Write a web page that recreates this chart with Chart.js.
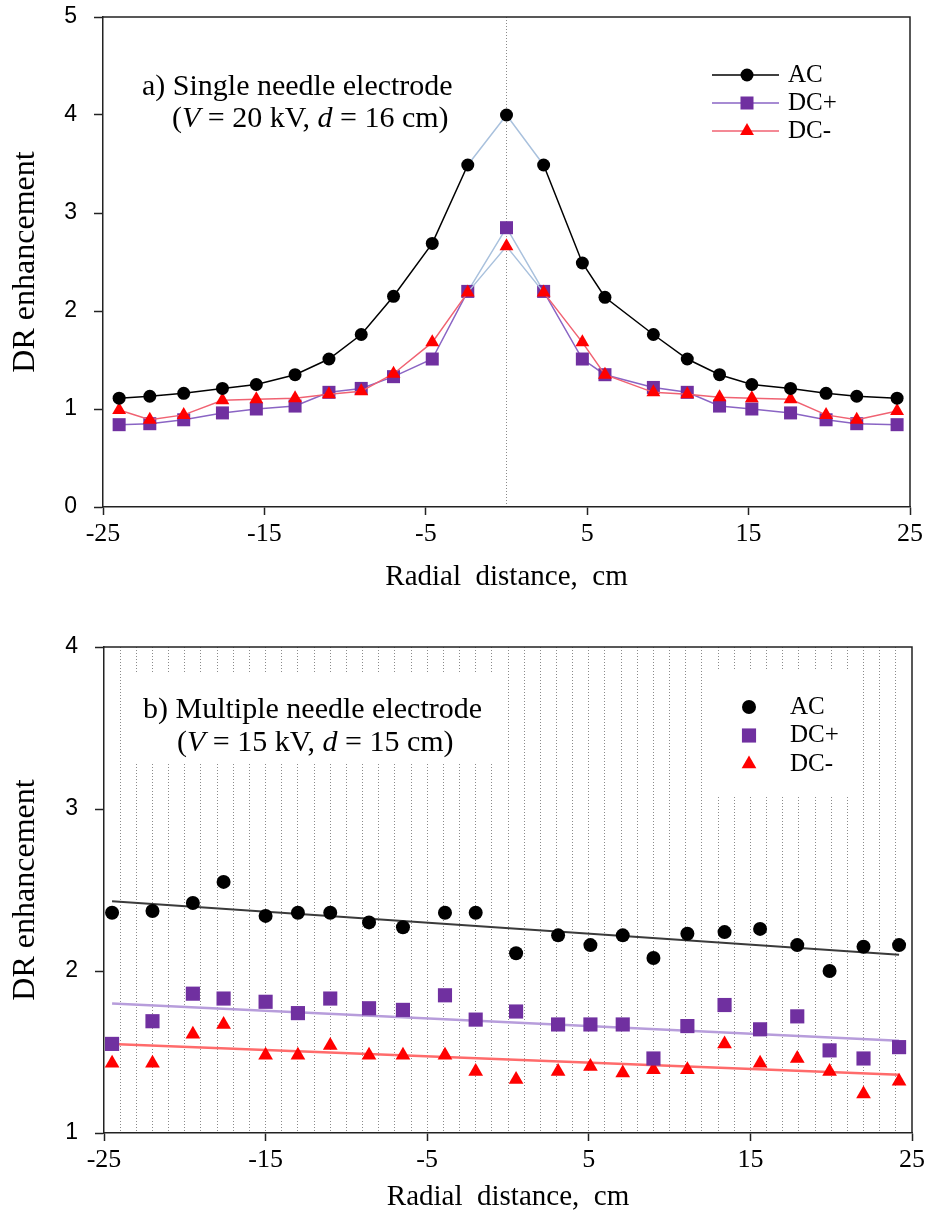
<!DOCTYPE html>
<html>
<head>
<meta charset="utf-8">
<script src="https://cdn.jsdelivr.net/npm/chart.js@4.4.0/dist/chart.umd.min.js"></script>
<style>
  body { margin: 0; background: #fff; }
  canvas { position: absolute; left: 0; }
</style>
</head>
<body>
<canvas id="chartSingle" width="933" height="600" style="top:0"></canvas>
<canvas id="chartMulti" width="933" height="623" style="top:600px"></canvas>
<script>
// a) single needle: radial distance (cm) and DR enhancement
const singleX = [-24, -22.1, -20, -17.6, -15.5, -13.1, -11, -9, -7, -4.6, -2.4, 0, 2.3, 4.7, 6.1, 9.1, 11.2, 13.2, 15.2, 17.6, 19.8, 21.7, 24.2];
const singleAC = [1.11, 1.13, 1.16, 1.21, 1.25, 1.35, 1.51, 1.76, 2.15, 2.69, 3.49, 4.0, 3.49, 2.49, 2.14, 1.76, 1.51, 1.35, 1.25, 1.21, 1.16, 1.13, 1.11];
const singleDCpos = [0.84, 0.85, 0.89, 0.96, 1.0, 1.03, 1.17, 1.21, 1.33, 1.51, 2.2, 2.85, 2.2, 1.51, 1.35, 1.22, 1.17, 1.03, 1.0, 0.96, 0.89, 0.85, 0.84];
const singleDCneg = [0.99, 0.89, 0.94, 1.09, 1.1, 1.11, 1.15, 1.18, 1.36, 1.68, 2.19, 2.66, 2.19, 1.68, 1.35, 1.17, 1.15, 1.12, 1.11, 1.1, 0.94, 0.89, 0.98];

// b) multiple needle
const multiX = [-24.5, -22, -19.5, -17.6, -15, -13, -11, -8.6, -6.5, -3.9, -2, 0.5, 3.1, 5.1, 7.1, 9, 11.1, 13.4, 15.6, 17.9, 19.9, 22, 24.2];
const multiAC = [2.36, 2.37, 2.42, 2.55, 2.34, 2.36, 2.36, 2.3, 2.27, 2.36, 2.36, 2.11, 2.22, 2.16, 2.22, 2.08, 2.23, 2.24, 2.26, 2.16, 2.0, 2.15, 2.16];
const multiDCpos = [1.55, 1.69, 1.86, 1.83, 1.81, 1.74, 1.83, 1.77, 1.76, 1.85, 1.7, 1.75, 1.67, 1.67, 1.67, 1.46, 1.66, 1.79, 1.64, 1.72, 1.51, 1.46, 1.53];
const multiDCneg = [1.43, 1.43, 1.61, 1.67, 1.48, 1.48, 1.54, 1.48, 1.48, 1.48, 1.38, 1.33, 1.38, 1.41, 1.37, 1.39, 1.39, 1.55, 1.43, 1.46, 1.38, 1.24, 1.32];

// linear trend lines (end points)
const trendX = [-24.5, 24.2];
const trendAC = [2.43, 2.1];
const trendDCpos = [1.8, 1.57];
const trendDCneg = [1.55, 1.36];

// axes
const xTickLabels = [-25, -15, -5, 5, 15, 25];
const singleYTicks = [0, 1, 2, 3, 4, 5];
const multiYTicks = [1, 2, 3, 4];

const AXIS = '#222';
const SERIF = '"Liberation Serif", "Times New Roman", serif';
const SANS = '"Liberation Sans", Arial, sans-serif';

function pts(xs, ys) {
  return xs.map((x, i) => ({ x: x, y: ys[i] }));
}

function marker(ctx, style, x, y, r) {
  ctx.beginPath();
  if (style === 'rect') {
    const s = r * Math.SQRT1_2;
    ctx.rect(x - s, y - s, 2 * s, 2 * s);
  } else if (style === 'triangle') {
    ctx.moveTo(x, y - r);
    ctx.lineTo(x + r * Math.sin(Math.PI * 2 / 3), y + r / 2);
    ctx.lineTo(x - r * Math.sin(Math.PI * 2 / 3), y + r / 2);
    ctx.closePath();
  } else {
    ctx.arc(x, y, r, 0, Math.PI * 2);
  }
  ctx.fill();
}

// caption, white masks, frame and inset legend
const decor = {
  id: 'decor',
  beforeDatasetsDraw(chart, args, opts) {
    const ctx = chart.ctx, a = chart.chartArea;
    ctx.save();
    ctx.fillStyle = '#fff';
    (opts.masks || []).forEach(m => ctx.fillRect(a.left + m.x, a.top + m.y, m.w, m.h));
    ctx.strokeStyle = AXIS;
    ctx.lineWidth = 1.5;
    ctx.beginPath();
    ctx.moveTo(a.left, a.top);
    ctx.lineTo(a.right, a.top);
    ctx.lineTo(a.right, a.bottom);
    ctx.stroke();
    ctx.fillStyle = '#000';
    ctx.textBaseline = 'middle';
    opts.caption.forEach(line => {
      let x = a.left + line.x;
      line.runs.forEach(r => {
        ctx.font = (r.italic ? 'italic ' : '') + '30px ' + SERIF;
        ctx.fillText(r.t, x, a.top + line.y);
        x += ctx.measureText(r.t).width;
      });
    });
    ctx.restore();
  },
  afterDatasetsDraw(chart, args, opts) {
    const ctx = chart.ctx, a = chart.chartArea, lg = opts.legend;
    ctx.save();
    ctx.textBaseline = 'middle';
    ctx.font = '25px ' + SERIF;
    chart.data.datasets.filter(ds => !ds.trend).forEach((ds, i) => {
      const y = a.top + lg.y + i * lg.gap;
      const mx = a.left + lg.x;
      if (lg.line) {
        ctx.strokeStyle = ds.borderColor;
        ctx.lineWidth = ds.borderWidth;
        ctx.beginPath();
        ctx.moveTo(mx - 35, y);
        ctx.lineTo(mx + 32, y);
        ctx.stroke();
      }
      ctx.fillStyle = ds.backgroundColor;
      marker(ctx, ds.pointStyle, mx, y, ds.pointRadius);
      ctx.fillStyle = '#000';
      ctx.fillText(ds.label, mx + 41, y);
    });
    ctx.restore();
  }
};

function scales(opt) {
  return {
    x: {
      type: 'linear', min: -25, max: 25,
      afterBuildTicks: s => { s.ticks = opt.xGrid.map(v => ({ value: v })); },
      afterFit: s => { s.height = opt.xHeight; },
      ticks: {
        autoSkip: false, maxRotation: 0, padding: 4, color: '#000',
        font: { family: SERIF, size: 26 },
        callback: v => xTickLabels.includes(v) ? String(v) : ''
      },
      grid: {
        lineWidth: 1,
        color: c => opt.dotted(c.tick.value) ? '#8a8a8a' : 'transparent',
        tickColor: c => xTickLabels.includes(c.tick.value) ? AXIS : 'transparent',
        tickLength: 8, tickWidth: 1.5
      },
      border: { color: AXIS, width: 1.5, dash: [1, 2] },
      title: {
        display: true, text: 'Radial  distance,  cm', color: '#000',
        font: { family: SERIF, size: 29 }, padding: opt.xTitlePad
      }
    },
    y: {
      min: opt.yTicks[0], max: opt.yTicks[opt.yTicks.length - 1],
      afterBuildTicks: s => { s.ticks = opt.yTicks.map(v => ({ value: v })); },
      afterFit: s => { s.width = opt.yWidth; s.paddingTop = 0; s.paddingBottom = 0; },
      ticks: { padding: 17, color: '#000', font: { family: SANS, size: 23 } },
      grid: { drawOnChartArea: false, tickLength: 9, tickWidth: 1.5, tickColor: AXIS },
      border: { color: AXIS, width: 1.5 },
      title: {
        display: true, text: 'DR enhancement', color: '#000',
        font: { family: SERIF, size: 32 }, padding: { top: 6, bottom: 0 }
      }
    }
  };
}

// shade the two segments that meet at the centre
const centreIdx = singleX.indexOf(0);
const centreSeg = c => (c.p0DataIndex === centreIdx || c.p1DataIndex === centreIdx) ? '#a9c1dd' : undefined;

new Chart(document.getElementById('chartSingle'), {
  type: 'scatter',
  data: {
    datasets: [
      {
        label: 'AC', data: pts(singleX, singleAC), showLine: true, order: 0,
        borderColor: '#000', backgroundColor: '#000', borderWidth: 1.5,
        pointStyle: 'circle', pointRadius: 6.5, pointBorderWidth: 0,
        segment: { borderColor: centreSeg }
      },
      {
        label: 'DC+', data: pts(singleX, singleDCpos), showLine: true, order: 2,
        borderColor: '#8a64c4', backgroundColor: '#7030a0', borderWidth: 1.5,
        pointStyle: 'rect', pointRadius: 9.2, pointBorderWidth: 0,
        segment: { borderColor: centreSeg }
      },
      {
        label: 'DC-', data: pts(singleX, singleDCneg), showLine: true, order: 1,
        borderColor: '#f06272', backgroundColor: '#ff0000', borderWidth: 1.5,
        pointStyle: 'triangle', pointRadius: 8, pointBorderWidth: 0,
        segment: { borderColor: centreSeg }
      }
    ]
  },
  options: {
    responsive: false, animation: false, clip: false,
    layout: { padding: { top: 17, right: 23, left: 0, bottom: 0 } },
    plugins: {
      legend: { display: false }, tooltip: { enabled: false },
      decor: {
        caption: [
          { x: 39, y: 70, runs: [{ t: 'a) Single needle electrode' }] },
          { x: 69, y: 102, runs: [{ t: '(' }, { t: 'V', italic: true }, { t: ' = 20 kV, ' }, { t: 'd', italic: true }, { t: ' = 16 cm)' }] }
        ],
        legend: { x: 644, y: 58, gap: 28, line: true }
      }
    },
    scales: scales({
      xGrid: [-25, -15, -5, 0, 5, 15, 25],
      dotted: v => v === 0,
      yTicks: singleYTicks,
      yWidth: 103,
      xHeight: 93,
      xTitlePad: { top: 10, bottom: 5 }
    })
  },
  plugins: [decor]
});

const multiGrid = [];
for (let v = -25; v <= 25; v++) multiGrid.push(v);

new Chart(document.getElementById('chartMulti'), {
  type: 'scatter',
  data: {
    datasets: [
      {
        label: 'AC', data: pts(multiX, multiAC), order: 0,
        backgroundColor: '#000', borderColor: '#000', borderWidth: 1.5,
        pointStyle: 'circle', pointRadius: 7, pointBorderWidth: 0
      },
      {
        label: 'DC+', data: pts(multiX, multiDCpos), order: 1,
        backgroundColor: '#7030a0', borderColor: '#7030a0', borderWidth: 1.5,
        pointStyle: 'rect', pointRadius: 10, pointBorderWidth: 0
      },
      {
        label: 'DC-', data: pts(multiX, multiDCneg), order: 2,
        backgroundColor: '#ff0000', borderColor: '#ff0000', borderWidth: 1.5,
        pointStyle: 'triangle', pointRadius: 8.5, pointBorderWidth: 0
      },
      { trend: true, data: pts(trendX, trendAC), showLine: true, order: 5, borderColor: '#3a3a3a', borderWidth: 2, pointRadius: 0 },
      { trend: true, data: pts(trendX, trendDCpos), showLine: true, order: 5, borderColor: '#b79ddb', borderWidth: 2.5, pointRadius: 0 },
      { trend: true, data: pts(trendX, trendDCneg), showLine: true, order: 5, borderColor: '#ff6b6b', borderWidth: 2.5, pointRadius: 0 }
    ]
  },
  options: {
    responsive: false, animation: false, clip: false,
    layout: { padding: { top: 47, right: 21, left: 0, bottom: 0 } },
    plugins: {
      legend: { display: false }, tooltip: { enabled: false },
      decor: {
        masks: [{ x: 24, y: 26, w: 372, h: 90 }, { x: 606, y: 23, w: 150, h: 127 }],
        caption: [
          { x: 39, y: 63, runs: [{ t: 'b) Multiple needle electrode' }] },
          { x: 73, y: 96, runs: [{ t: '(' }, { t: 'V', italic: true }, { t: ' = 15 kV, ' }, { t: 'd', italic: true }, { t: ' = 15 cm)' }] }
        ],
        legend: { x: 645, y: 60, gap: 28.5, line: false }
      }
    },
    scales: scales({
      xGrid: multiGrid,
      dotted: v => v > -25 && v < 25,
      yTicks: multiYTicks,
      yWidth: 104,
      xHeight: 90,
      xTitlePad: { top: 3.4, bottom: 8.6 }
    })
  },
  plugins: [decor]
});
</script>
</body>
</html>
